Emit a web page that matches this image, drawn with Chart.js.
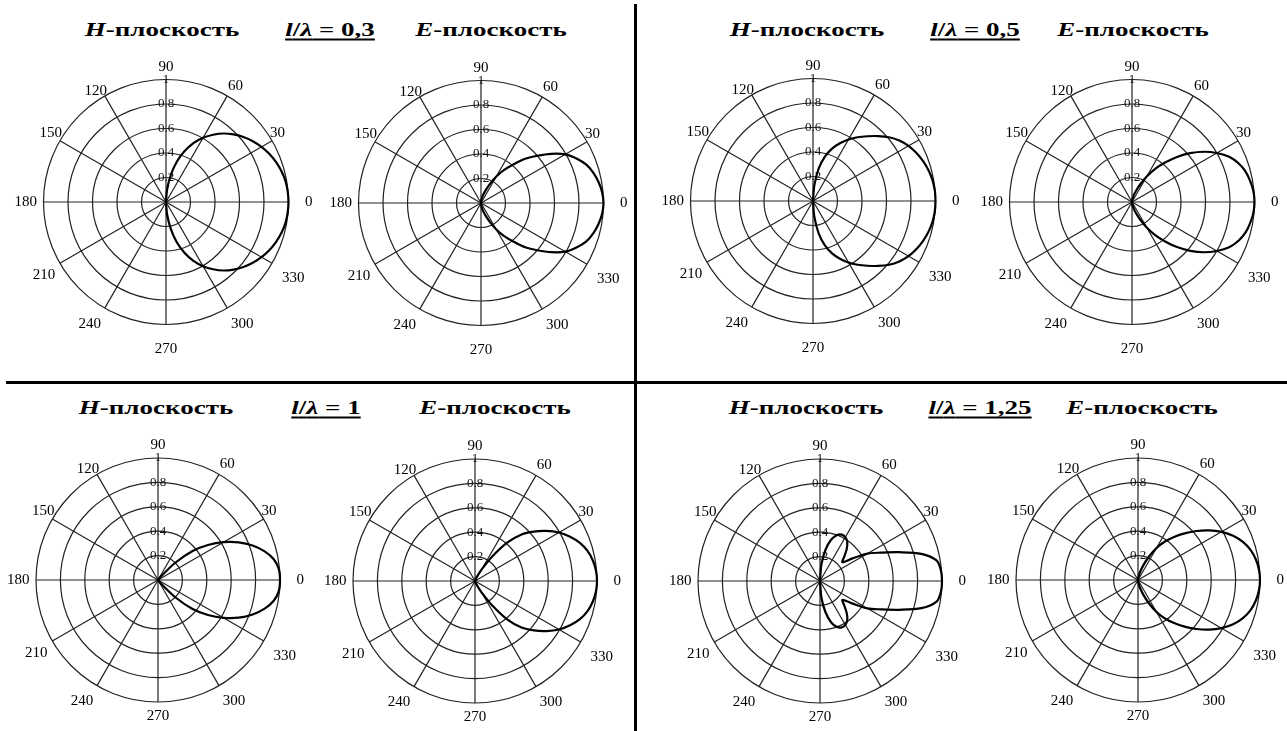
<!DOCTYPE html>
<html>
<head>
<meta charset="utf-8">
<script src="https://cdn.jsdelivr.net/npm/chart.js@4"></script>
<style>
  body { margin: 0; background: #fff; }
  #page { position: relative; width: 1287px; height: 731px; overflow: hidden; background: #fff; }
  canvas { position: absolute; }
  .t { position: absolute; white-space: nowrap; font: bold 18px "Liberation Serif", serif; color: #000;
       transform: translate(-50%, -50%) scaleX(1.5); }
  .u { text-decoration: underline; text-decoration-thickness: 2px; text-underline-offset: 3px; }
  .line { position: absolute; background: #000; }
</style>
</head>
<body>
<div id="page">
  <div class="line" style="left:634px;top:4px;width:3px;height:727px"></div>
  <div class="line" style="left:6px;top:381px;width:1281px;height:3px"></div>

  <div class="t" style="left:162px;top:30px"><i>H</i>-плоскость</div>
  <div class="t u" style="left:330px;top:30px"><i>l</i>/<i>λ</i> = 0,3</div>
  <div class="t" style="left:491px;top:30px"><i>E</i>-плоскость</div>

  <div class="t" style="left:807px;top:30px"><i>H</i>-плоскость</div>
  <div class="t u" style="left:975px;top:30px"><i>l</i>/<i>λ</i> = 0,5</div>
  <div class="t" style="left:1133px;top:30px"><i>E</i>-плоскость</div>

  <div class="t" style="left:156px;top:408px"><i>H</i>-плоскость</div>
  <div class="t u" style="left:326px;top:408px"><i>l</i>/<i>λ</i> = 1</div>
  <div class="t" style="left:495px;top:408px"><i>E</i>-плоскость</div>

  <div class="t" style="left:806px;top:408px"><i>H</i>-плоскость</div>
  <div class="t u" style="left:980px;top:408px"><i>l</i>/<i>λ</i> = 1,25</div>
  <div class="t" style="left:1142px;top:408px"><i>E</i>-плоскость</div>
</div>
<script>
// angles around the radar, clockwise from the top (90 deg)
var angles = [90,85,80,75,70,65,60,55,50,45,40,35,30,25,20,15,10,5,0,
  355,350,345,340,335,330,325,320,315,310,305,300,295,290,285,280,275,270,
  265,260,255,250,245,240,235,230,225,220,215,210,205,200,195,190,185,180,
  175,170,165,160,155,150,145,140,135,130,125,120,115,110,105,100,95];

// patterns, from 90 through 0 down to -90 (270)
var h03 = [0,0.10,0.22,0.34,0.44,0.53,0.605,0.67,0.73,0.78,0.825,0.865,0.90,0.93,0.955,0.975,0.99,0.997,1.0,
  0.997,0.99,0.975,0.955,0.93,0.90,0.865,0.825,0.78,0.73,0.67,0.605,0.53,0.44,0.34,0.22,0.10,0];
var e03 = [0,0.02,0.04,0.07,0.11,0.17,0.25,0.33,0.41,0.51,0.60,0.70,0.795,0.86,0.915,0.95,0.975,0.993,1.0,
  0.993,0.975,0.95,0.915,0.86,0.795,0.70,0.60,0.51,0.41,0.33,0.25,0.17,0.11,0.07,0.04,0.02,0];
var h05 = [0,0.13,0.27,0.375,0.455,0.52,0.58,0.635,0.69,0.75,0.81,0.86,0.90,0.93,0.955,0.975,0.99,0.998,1.0,
  0.998,0.99,0.975,0.955,0.93,0.90,0.86,0.81,0.75,0.69,0.635,0.58,0.52,0.455,0.375,0.27,0.13,0];
var e05 = [0,0.01,0.03,0.06,0.10,0.16,0.24,0.33,0.42,0.52,0.62,0.715,0.80,0.875,0.925,0.96,0.98,0.995,1.0,
  0.995,0.98,0.96,0.925,0.875,0.80,0.715,0.62,0.52,0.42,0.33,0.24,0.16,0.10,0.06,0.03,0.01,0];
var h1 = [0,0,0,0,0,0,0,0,0.04,0.20,0.37,0.50,0.62,0.73,0.825,0.905,0.965,0.995,1.0,
  0.995,0.965,0.905,0.825,0.73,0.62,0.50,0.37,0.20,0.04,0,0,0,0,0,0,0,0];
var e1 = [0,0,0,0.01,0.02,0.05,0.11,0.24,0.41,0.54,0.63,0.715,0.795,0.86,0.915,0.955,0.98,0.995,1.0,
  0.995,0.98,0.955,0.915,0.86,0.795,0.715,0.63,0.54,0.41,0.24,0.11,0.05,0.02,0.01,0,0,0];
var h125 = [0,0.14,0.26,0.35,0.40,0.42,0.415,0.39,0.34,0.28,0.24,0.32,0.45,0.55,0.69,0.86,0.97,0.995,1.0,
  0.995,0.97,0.86,0.69,0.55,0.45,0.32,0.24,0.28,0.34,0.39,0.415,0.42,0.40,0.35,0.26,0.14,0];
var e125 = [0,0.01,0.03,0.07,0.13,0.21,0.30,0.385,0.46,0.54,0.625,0.71,0.79,0.86,0.915,0.955,0.98,0.995,1.0,
  0.995,0.98,0.955,0.915,0.86,0.79,0.71,0.625,0.54,0.46,0.385,0.30,0.21,0.13,0.07,0.03,0.01,0];
// rear half (265 .. 95): no radiation drawn
var rear = [0,0,0,0,0,0,0,0,0,0,0,0,0,0,0,0,0,0,0,0,0,0,0,0,0,0,0,0,0,0,0,0,0,0,0];

var ringTicks = [0.2, 0.4, 0.6, 0.8, 1];

// where each plot sits (centre in page pixels)
var plots = [
  {cx: 166, cy: 202, v: h03, low: false}, {cx: 481, cy: 203, v: e03, low: false},
  {cx: 813, cy: 201, v: h05, low: false}, {cx: 1132, cy: 202, v: e05, low: false},
  {cx: 158, cy: 580, v: h1, low: true},   {cx: 475, cy: 581, v: e1, low: true},
  {cx: 820, cy: 581, v: h125, low: true}, {cx: 1138, cy: 580, v: e125, low: true}
];
var R = 122;
var labelPad = {0: 8, 30: -11, 60: -7, 90: -5, 120: -13, 150: -11, 180: -2, 210: -3, 240: -1, 300: -1, 330: 3};

function build(cv, size, p) {
  cv.width = size; cv.height = size;
  return new Chart(cv, {
    type: 'radar',
    data: {
      labels: angles,
      datasets: [{ data: p.v.concat(rear), borderColor: '#000', borderWidth: 2.2,
                   fill: false, pointRadius: 0, tension: 0.3 }]
    },
    options: {
      responsive: false, animation: false, events: [],
      plugins: { legend: { display: false }, tooltip: { enabled: false } },
      scales: {
        r: {
          min: 0, max: 1,
          ticks: { stepSize: 0.2, showLabelBackdrop: false, color: '#111',
                   font: { family: 'Liberation Serif', size: 13 },
                   callback: function (v) { return ringTicks.indexOf(Math.round(v * 10) / 10) < 0 ? '' : (v === 1 ? '1' : v.toFixed(1)); } },
          grid: { circular: true, color: '#222', lineWidth: 1.2 },
          angleLines: { lineWidth: 1.2,
                        color: function (c) { return angles[c.index] % 30 === 0 ? '#222' : 'rgba(0,0,0,0)'; } },
          pointLabels: {
            color: '#000', font: { family: 'Liberation Serif', size: 15 },
            padding: function (c) {
              var a = angles[c.index];
              if (a === 270) return p.low ? -3 : 7;
              return a % 30 === 0 ? labelPad[a] : 0;
            },
            callback: function (lab) { return lab % 30 === 0 ? String(lab) : ''; }
          }
        }
      }
    }
  });
}

var page = document.getElementById('page');
plots.forEach(function (p) {
  var cv = document.createElement('canvas');
  page.appendChild(cv);
  var size = 300;
  var ch = build(cv, size, p);
  for (var k = 0; k < 3; k++) {
    var r = ch.scales.r.drawingArea;
    if (Math.abs(r - R) < 0.4) break;
    size = Math.round(size + 2 * (R - r));
    ch.destroy();
    ch = build(cv, size, p);
  }
  cv.style.left = (p.cx - ch.scales.r.xCenter) + 'px';
  cv.style.top = (p.cy - ch.scales.r.yCenter) + 'px';
});
</script>
</body>
</html>
